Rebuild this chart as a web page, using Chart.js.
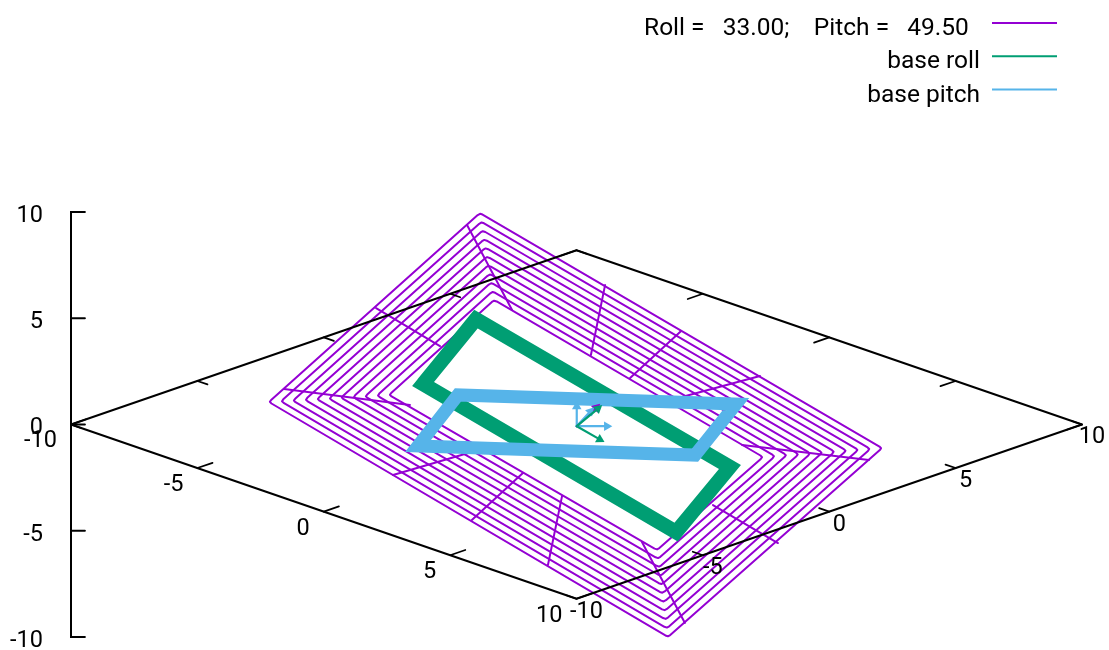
<!DOCTYPE html>
<html>
<head>
<meta charset="utf-8">
<style>
    body { margin: 0; background: #fff; }
    canvas { display: block; }
</style>
<script src="https://cdn.jsdelivr.net/npm/chart.js@4/dist/chart.umd.min.js"></script>
</head>
<body>
<canvas id="attitudeChart" width="1109" height="650"></canvas>
<script>
// === ROLL / PITCH VIEW ===
// horizontal scale is x+y of the gnuplot base plane, vertical scale is z (view tilt folded in)

const TICK_VALUES = [-10, -5, 0, 5, 10];
const VIEW_TILT = 0.41;
const LEGEND_LABELS = ['Roll =   33.00;    Pitch =   49.50  ', 'base roll', 'base pitch'];

const COLORS = { purple: '#9400d3', green: '#009e73', blue: '#56b4e9', black: '#000000' };

// purple rings, outermost first: the four corners of each ring
const ringTopH = [-3.82, -3.76, -3.71, -3.65, -3.60, -3.54, -3.49, -3.43, -3.38, -3.32, -3.26];
const ringTopV = [9.95, 9.54, 9.13, 8.72, 8.32, 7.91, 7.50, 7.09, 6.68, 6.27, 5.86];
const ringLeftH = [-12.17, -11.69, -11.22, -10.74, -10.27, -9.79, -9.32, -8.84, -8.37, -7.89, -7.42];
const ringLeftV = [1.06, 1.09, 1.12, 1.16, 1.19, 1.22, 1.26, 1.29, 1.32, 1.36, 1.39];
const ringBottomH = [3.62, 3.58, 3.53, 3.49, 3.45, 3.40, 3.36, 3.32, 3.27, 3.23, 3.19];
const ringBottomV = [-10.0, -9.59, -9.18, -8.77, -8.36, -7.95, -7.54, -7.13, -6.72, -6.32, -5.91];
const ringRightH = [12.09, 11.62, 11.15, 10.68, 10.21, 9.73, 9.26, 8.79, 8.32, 7.85, 7.38];
const ringRightV = [-1.11, -1.15, -1.19, -1.23, -1.28, -1.32, -1.36, -1.40, -1.44, -1.49, -1.53];

// purple cross lines, outer ring to inner ring
const crossOuterH = [-4.33, -7.93, -11.57, -7.26, -4.14, -1.13, 4.29, 7.97, 11.57, 7.26, 4.14, 1.13];
const crossOuterV = [9.39, 5.48, 1.67, -2.38, -4.49, -6.61, -9.34, -5.58, -1.67, 2.28, 4.40, 6.56];
const crossInnerH = [-2.55, -5.40, -6.59, -3.74, -2.12, -0.57, 2.59, 5.40, 6.55, 3.58, 2.12, 0.57];
const crossInnerV = [5.39, 3.69, 0.92, -1.15, -2.28, -3.36, -5.53, -3.79, -0.96, 1.11, 2.19, 3.27];

// base frames
const baseRollH = [-3.98, -6.07, 3.94, 6.07];
const baseRollV = [4.96, 1.91, -5.06, -2.0];
const basePitchH = [-6.27, -4.69, 6.31, 4.69];
const basePitchV = [-1.01, 1.39, 0.96, -1.44];

// little arrows at the origin
const arrowOrigin = { x: 0.01, y: -0.08 };
const arrowTipH = [0.01, 1.20, 0.92, 0.78, 0.55, 0.85];
const arrowTipV = [0.85, -0.08, -0.70, 0.80, 0.62, 0.75];
const arrowColors = [COLORS.blue, COLORS.blue, COLORS.green, COLORS.purple, COLORS.blue, COLORS.green];

const boxH = (x, y) => x + y;
const boxV = (x, y) => VIEW_TILT * (y - x);
const boxPt = (x, y) => ({ x: boxH(x, y), y: boxV(x, y) });

// walk round a ring and soften each corner with three close points
function ringPath(i) {
    const c = [
        [ringTopH[i], ringTopV[i]], [ringRightH[i], ringRightV[i]],
        [ringBottomH[i], ringBottomV[i]], [ringLeftH[i], ringLeftV[i]]
    ];
    const pts = [];
    c.forEach((p, k) => {
        const prev = c[(k + 3) % 4], next = c[(k + 1) % 4];
        const toward = q => {
            const len = Math.hypot((q[0] - p[0]) * 25.27, (q[1] - p[1]) * 21.25);
            return [(q[0] - p[0]) * 3 / len, (q[1] - p[1]) * 3 / len];
        };
        const a = toward(prev), b = toward(next);
        pts.push({ x: p[0] + a[0], y: p[1] + a[1] });
        pts.push({ x: p[0] + (a[0] + b[0]) * 0.2, y: p[1] + (a[1] + b[1]) * 0.2 });
        pts.push({ x: p[0] + b[0], y: p[1] + b[1] });
    });
    pts.push(pts[0]);
    return pts;
}

function line(data, color, width, extra) {
    return Object.assign({
        data, borderColor: color, backgroundColor: color, borderWidth: width,
        showLine: true, pointRadius: 0, clip: false, borderCapStyle: 'round', borderJoinStyle: 'round'
    }, extra || {});
}

function frame(hs, vs) {
    const pts = hs.map((h, i) => ({ x: h, y: vs[i] }));
    pts.push(pts[0], pts[1]);
    return pts;
}

// paint order: first in this list is at the bottom
const datasets = [];

ringTopH.forEach((_, i) => datasets.push(line(ringPath(i), COLORS.purple, 2)));
crossOuterH.forEach((h, i) => datasets.push(line([{ x: h, y: crossOuterV[i] }, { x: crossInnerH[i], y: crossInnerV[i] }], COLORS.purple, 2)));

// base box edges and ticks
datasets.push(line([boxPt(-10, -10), boxPt(10, -10), boxPt(10, 10), boxPt(-10, 10), boxPt(-10, -10)], COLORS.black, 2));
TICK_VALUES.forEach(t => {
    datasets.push(line([boxPt(t, -10), boxPt(t, -9.4)], COLORS.black, 1.7));
    datasets.push(line([boxPt(t, 10), boxPt(t, 9.4)], COLORS.black, 1.7));
    datasets.push(line([boxPt(-10, t), boxPt(-9.6, t)], COLORS.black, 1.7));
    datasets.push(line([boxPt(10, t), boxPt(9.6, t)], COLORS.black, 1.7));
    datasets.push(line([{ x: -20, y: t }, { x: -19.45, y: t }], COLORS.black, 2));
});

datasets.push(line(frame(baseRollH, baseRollV), COLORS.green, 14.5, { borderJoinStyle: 'miter', borderCapStyle: 'butt' }));
datasets.push(line(frame(basePitchH, basePitchV), COLORS.blue, 13, { borderJoinStyle: 'miter', borderCapStyle: 'butt' }));

arrowTipH.forEach((h, i) => {
    datasets.push(line([arrowOrigin, { x: h, y: arrowTipV[i] }], arrowColors[i], 2.2, {
        pointStyle: 'triangle',
        pointRadius: [0, 5.5],
        pointBorderWidth: 0,
        pointBackgroundColor: arrowColors[i],
        pointRotation: ctx => {
            const s = ctx.chart.scales;
            const dx = s.x.getPixelForValue(h) - s.x.getPixelForValue(arrowOrigin.x);
            const dy = s.y.getPixelForValue(arrowTipV[i]) - s.y.getPixelForValue(arrowOrigin.y);
            return Math.atan2(dx, -dy) * 180 / Math.PI;
        }
    }));
});

datasets.forEach((d, i) => { d.order = -i; });

// x/y tick numbers and the top right key
const textPlugin = {
    id: 'gnuplotText',
    afterDatasetsDraw(chart) {
        const { ctx, scales } = chart;
        const px = h => scales.x.getPixelForValue(h);
        const py = v => scales.y.getPixelForValue(v);
        ctx.save();
        ctx.font = '23.5px Roboto';
        ctx.fillStyle = COLORS.black;
        ctx.textBaseline = 'middle';

        ctx.textAlign = 'right';
        TICK_VALUES.forEach(t => {
            ctx.fillText(String(t), px(boxH(t, -10)) - 14, py(boxV(t, -10)) + 17);
        });
        ctx.textAlign = 'center';
        TICK_VALUES.forEach(t => {
            ctx.fillText(String(t), px(boxH(10, t)) + 10, py(boxV(10, t)) + 13);
        });

        ctx.font = '24.5px Roboto';
        const keyColors = [COLORS.purple, COLORS.green, COLORS.blue];
        LEGEND_LABELS.forEach((label, i) => {
            const y = 26 + i * 33.3;
            ctx.textAlign = 'right';
            ctx.fillStyle = COLORS.black;
            ctx.fillText(label, i === 0 ? 981 : 980, y + 3);
            ctx.beginPath();
            ctx.moveTo(992, y - 3);
            ctx.lineTo(1057, y - 3);
            ctx.strokeStyle = keyColors[i];
            ctx.lineWidth = 2;
            ctx.stroke();
        });
        ctx.restore();
    }
};

new Chart(document.getElementById('attitudeChart').getContext('2d'), {
    type: 'scatter',
    data: { datasets },
    plugins: [textPlugin],
    options: {
        responsive: false,
        animation: false,
        layout: { padding: { top: 212, bottom: 13, left: 0, right: 27 } },
        plugins: { legend: { display: false }, tooltip: { enabled: false } },
        scales: {
            x: { type: 'linear', display: false, min: -20, max: 20 },
            y: {
                type: 'linear',
                min: -10,
                max: 10,
                afterFit: s => { s.width = 71; },
                border: { color: COLORS.black, width: 2 },
                // the hidden tick length pushes the labels clear of the axis
                grid: { drawOnChartArea: false, tickLength: 28, tickColor: 'rgba(0,0,0,0)' },
                ticks: {
                    stepSize: 5,
                    color: COLORS.black,
                    padding: 0,
                    labelOffset: 4,
                    font: { family: 'Roboto', size: 23.5, lineHeight: 1 }
                }
            }
        }
    }
});
</script>
</body>
</html>
